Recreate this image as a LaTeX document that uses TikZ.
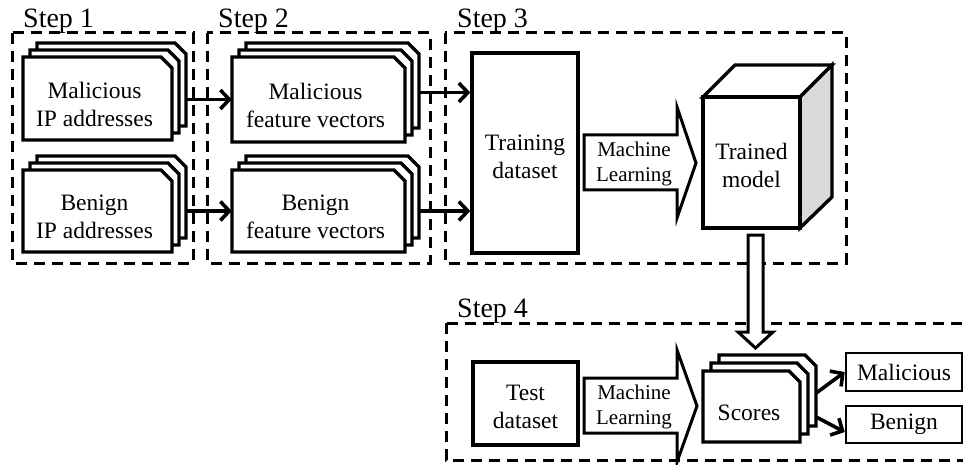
\documentclass[tikz,border=0pt]{standalone}
\usepackage{fontspec}
\setmainfont{Liberation Serif}
\usetikzlibrary{arrows.meta,fit}
\definecolor{sidegray}{HTML}{D9D9D9}
\tikzset{
  dashbox/.style={draw, line width=3pt, dash pattern=on 11pt off 7pt},
  boxline/.style={draw, fill=white, line width=3.4pt, line join=miter},
  thinbox/.style={draw, fill=white, line width=2.6pt},
  txt/.style={align=center, inner sep=0pt, font=\fontsize{23.5}{28}\selectfont},
  mltxt/.style={align=center, inner sep=0pt, font=\fontsize{21}{25}\selectfont},
  steplbl/.style={anchor=base west, inner sep=0pt, font=\fontsize{28}{30}\selectfont},
  arr/.style={line width=3.6pt, -{Straight Barb[length=9pt,width=19pt,line width=3.6pt]}},
  blockarr/.style={draw, fill=white, line width=3pt, line join=miter},
}
\newcommand\mystack[8]{%
  \foreach \k in {2,1,0}{
    \filldraw[boxline] ({#2+\k*#6},{#3-\k*#6}) -- ({#4+\k*#6-#8},{#3-\k*#6}) -- ({#4+\k*#6},{#3-\k*#6+#8}) -- ({#4+\k*#6},{#5-\k*#6}) -- ({#2+\k*#6},{#5-\k*#6}) -- cycle;
  }
  \node[minimum width={(#4-#2)*1pt}, minimum height={(#5-#3)*1pt}, inner sep=0pt] (#1) at ({(#2+#4)/2},{(#3+#5)/2}) {};
  \node[txt, yshift=-6pt] (#1txt) at ({(#2+#4)/2-3},{(#3+#5)/2}) {#7};
  \path (#2,{#3-2*#6}) coordinate (#1-nw) ({#4+2*#6},#5) coordinate (#1-se);
  \node[fit=(#1-nw)(#1-se), inner sep=0pt] (#1all) {};
}
\begin{document}
\begin{tikzpicture}[x=1pt,y=-1pt]
\useasboundingbox (0,0) rectangle (963,465);
\fill[white] (0,0) rectangle (963,465);
\begin{scope}
\clip (0,0) rectangle (963,465);
% dashed step boxes
\draw[dashbox] (12,33) rectangle (193,263);
\draw[dashbox] (207,33) rectangle (430,263);
\draw[dashbox] (445,33) rectangle (846,263);
\draw[dashbox] (446,323) rectangle (990,460);
\end{scope}
% step labels
\node[steplbl] (s1) at (23,28) {Step 1};
\node[steplbl] (s2) at (218,28) {Step 2};
\node[steplbl] (s3) at (457,28) {Step 3};
\node[steplbl] (s4) at (457,317) {Step 4};
% step 1 stacks
\mystack{ipm}{23}{57}{172}{140}{7}{Malicious\\IP addresses}{11}
\mystack{ipb}{23}{170}{172}{252}{7}{Benign\\IP addresses}{11}
% step 2 stacks
\mystack{fvm}{232}{57}{405}{142}{7}{Malicious\\feature vectors}{11}
\mystack{fvb}{232}{170}{405}{252}{7}{Benign\\feature vectors}{11}
% step 3
\node[boxline, minimum width=106pt, minimum height=200pt] (train) at (525,153) {};
\node[txt, yshift=-4pt] (traintxt) at (train.center) {Training\\dataset};
\draw[blockarr] (584,135) -- (677,135) -- (677,107) -- (696,163) -- (677,218) -- (677,190) -- (584,190) -- cycle;
\node[mltxt] (ml1) at (634,164) {Machine\\Learning};
% cube
\filldraw[boxline] (703,97) -- (735,65) -- (832,65) -- (800,97) -- cycle;
\filldraw[boxline, fill=sidegray] (800,97) -- (832,65) -- (832,197) -- (800,228) -- cycle;
\node[boxline, minimum width=97pt, minimum height=131pt] (model) at (751.5,162.5) {};
\node[txt, yshift=-3pt] (modeltxt) at (model.center) {Trained\\model};
% down block arrow
\draw[blockarr] (748,235) -- (763,235) -- (763,332) -- (773,332) -- (755.5,348) -- (738,332) -- (748,332) -- cycle;
% step 4
\node[boxline, minimum width=105pt, minimum height=83pt] (test) at (525.5,403.5) {};
\node[txt, yshift=-3pt] (testtxt) at (test.center) {Test\\dataset};
\draw[blockarr] (584,378) -- (677,378) -- (677,350) -- (697,406) -- (677,462) -- (677,433) -- (584,433) -- cycle;
\node[mltxt] (ml2) at (634,407) {Machine\\Learning};
\mystack{sc}{703}{371}{800}{442}{8}{}{11}
\node[txt] (sctxt) at (749,413) {Scores};
\node[thinbox, txt, minimum width=116pt, minimum height=38pt] (mal) at (904,372) {Malicious};
\node[thinbox, txt, minimum width=116pt, minimum height=37pt] (ben) at (904,424.5) {Benign};
% connectors
\draw[arr] (ipmall.east |- fvm.west) -- (fvm.west);
\draw[arr] (ipball.east |- fvb.west) -- (fvb.west);
\draw[arr] (fvmall.east) -- (fvmall.east -| train.west);
\draw[arr] (fvball.east |- fvb.west) -- (train.west |- fvb.west);
\draw[arr] (scall.east |- 0,393) -- (mal.west);
\draw[arr] (scall.east |- 0,417) -- (ben.west |- 0,432);
\end{tikzpicture}
\end{document}
